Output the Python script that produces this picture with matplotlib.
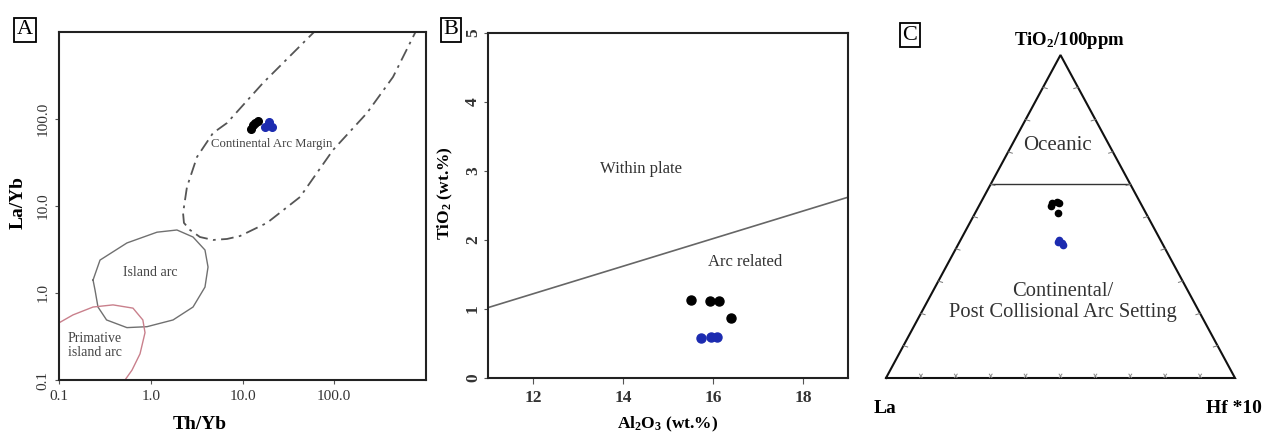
import numpy as np
import matplotlib
matplotlib.use("Agg")
import matplotlib.pyplot as plt

plt.rcParams['font.family'] = ['Liberation Serif', 'DejaVu Serif']
plt.rcParams['mathtext.fontset'] = 'custom'
plt.rcParams['mathtext.rm'] = 'Liberation Serif:bold'
plt.rcParams['mathtext.bf'] = 'Liberation Serif:bold'
plt.rcParams['mathtext.default'] = 'bf'

# ---------------- data ----------------
# Panel A: Th/Yb vs La/Yb
a_black_thyb = [12.5, 13.0, 13.8, 14.8]
a_black_layb = [76, 86, 91, 96]
a_blue_thyb = [17.6, 19.5, 21.0]
a_blue_layb = [80, 92, 80]
a_ticks = [0.1, 1.0, 10.0, 100.0]
a_ticklabels = ["0.1", "1.0", "10.0", "100.0"]

# field boundaries (Th/Yb, La/Yb)
cam_x = [66, 16.7, 6.78, 4.77, 3.19, 2.48, 2.25, 2.30, 2.68, 3.44, 4.77, 6.78, 9.4, 18.5, 42.4, 96.9, 227, 437, 759, 830]
cam_y = [1100, 259, 90, 69, 36.6, 16.5, 8.3, 6.4, 5.3, 4.4, 4.07, 4.18, 4.52, 6.4, 12.7, 44, 117, 304, 975, 1150]
ia_x = [0.235, 0.28, 0.55, 1.17, 1.93, 2.89, 3.90, 4.21, 3.90, 2.89, 1.75, 0.91, 0.55, 0.33, 0.266, 0.247, 0.235]
ia_y = [1.41, 2.39, 3.76, 5.0, 5.3, 4.4, 3.12, 1.99, 1.17, 0.69, 0.49, 0.41, 0.40, 0.49, 0.69, 1.08, 1.41]
pia_x = [0.095, 0.142, 0.235, 0.388, 0.64, 0.82, 0.866, 0.764, 0.625, 0.524, 0.50]
pia_y = [0.44, 0.56, 0.69, 0.73, 0.67, 0.49, 0.35, 0.20, 0.13, 0.10, 0.09]

# Panel B: Al2O3 vs TiO2
b_black_al = [15.5, 15.93, 16.13, 16.41]
b_black_ti = [1.13, 1.12, 1.12, 0.865]
b_blue_al = [15.74, 15.95, 16.08]
b_blue_ti = [0.575, 0.60, 0.60]
b_line_al = [11, 19]
b_line_ti = [1.02, 2.62]
b_xticks = [12, 14, 16, 18]
b_yticks = [0, 1, 2, 3, 4, 5]

# Panel C: ternary La - Hf*10 - TiO2/100 (fractions)
c_black_la = [0.253, 0.237, 0.233, 0.261, 0.252]
c_black_hf = [0.205, 0.218, 0.225, 0.206, 0.237]
c_black_ti = [0.542, 0.545, 0.542, 0.533, 0.511]
c_blue_la = [0.297, 0.291, 0.287, 0.287]
c_blue_hf = [0.282, 0.282, 0.295, 0.301]
c_blue_ti = [0.421, 0.427, 0.418, 0.412]
c_oceanic_ti = 0.6

BLUE = '#1c2bb0'
W, H = 1264, 432
fig = plt.figure(figsize=(W / 100, H / 100), dpi=100)


def ax_at(l, t, r, b):
    return fig.add_axes([l / W, 1 - b / H, (r - l) / W, (b - t) / H])


def boxlabel(x, y, s):
    fig.text(x / W, 1 - y / H, s, fontsize=16, ha='center', va='center',
             bbox=dict(boxstyle='square,pad=0.12', fc='white', ec='black', lw=1.3))


# ---------------- Panel A ----------------
axA = ax_at(59, 32, 426, 380)
axA.set_xscale('log')
axA.set_yscale('log')
axA.set_xlim(0.1, 1000)
axA.set_ylim(0.1, 1000)
axA.plot(cam_x, cam_y, color='#555555', lw=1.3, ls=(0, (7, 3, 1.5, 3)))
axA.plot(ia_x, ia_y, color='#707070', lw=1.0)
axA.plot(pia_x, pia_y, color='#c9808c', lw=1.0)
axA.plot(a_black_thyb, a_black_layb, 'o', color='black', ms=5.5, mec='black')
axA.plot(a_blue_thyb, a_blue_layb, 'o', color=BLUE, ms=5.5, mec=BLUE)
axA.text(21, 52, "Continental Arc Margin", fontsize=9.2, color='#444444', ha='center', va='center')
axA.text(0.98, 1.70, "Island arc", fontsize=10, color='#444444', ha='center', va='center')
axA.text(0.125, 0.25, "Primative\nisland arc", fontsize=10, color='#444444', ha='left', va='center',
         linespacing=1.1)
axA.set_xticks(a_ticks)
axA.set_xticklabels(a_ticklabels, fontsize=11, color='#333333')
axA.set_yticks(a_ticks)
axA.set_yticklabels(a_ticklabels, fontsize=11, color='#333333', rotation=90, va='center')
axA.minorticks_off()
axA.tick_params(axis='both', length=3, width=0.8, color='#555555', pad=4)
axA.set_xlabel("Th/Yb", fontsize=14, fontweight='bold')
axA.set_ylabel("La/Yb", fontsize=14, fontweight='bold')
axA.xaxis.set_label_coords(0.384, -0.129)
axA.yaxis.set_label_coords(-0.11, 0.509)
axA.xaxis.label.set_va('center')
axA.yaxis.label.set_va('center')
for s in axA.spines.values():
    s.set_linewidth(1.5)
    s.set_color('#222222')
boxlabel(25, 30, "A")

# ---------------- Panel B ----------------
axB = ax_at(488, 33, 848, 378)
axB.set_xlim(11, 19)
axB.set_ylim(0, 5)
axB.plot(b_line_al, b_line_ti, color='#666666', lw=1.2)
axB.plot(b_black_al, b_black_ti, 'o', color='black', ms=6.5)
axB.plot(b_blue_al, b_blue_ti, 'o', color=BLUE, ms=6.5)
axB.text(14.41, 3.03, "Within plate", fontsize=12, color='#333333', ha='center', va='center')
axB.text(16.71, 1.68, "Arc related", fontsize=12, color='#333333', ha='center', va='center')
axB.set_xticks(b_xticks)
axB.set_xticklabels([str(v) for v in b_xticks], fontsize=12.5, fontweight='bold', color='#333333')
axB.set_yticks(b_yticks)
axB.set_yticklabels([str(v) for v in b_yticks], fontsize=12.5, fontweight='bold', color='#333333',
                    rotation=90, va='center')
axB.tick_params(axis='x', length=4, width=0.8, color='#555555', pad=5)
axB.tick_params(axis='y', length=3, width=0.8, color='#555555', pad=2)
axB.set_xlabel("Al$_2$O$_3$ (wt.%)", fontsize=12.5, fontweight='bold')
axB.set_ylabel("TiO$_2$ (wt.%)", fontsize=12.5, fontweight='bold')
axB.xaxis.set_label_coords(0.5, -0.135)
axB.yaxis.set_label_coords(-0.119, 0.536)
axB.xaxis.label.set_va('center')
axB.yaxis.label.set_va('center')
for s in axB.spines.values():
    s.set_linewidth(1.5)
    s.set_color('#222222')
boxlabel(451, 30, "B")

# ---------------- Panel C ----------------
axC = ax_at(886, 55, 1235, 378)
axC.set_xlim(0, 1)
axC.set_ylim(0, 1)
axC.axis('off')


def tern(la, hf, ti):
    la, hf, ti = np.asarray(la), np.asarray(hf), np.asarray(ti)
    tot = la + hf + ti
    return (hf + ti / 2) / tot, ti / tot


tri_x, tri_y = tern([1, 0, 0, 1], [0, 1, 0, 0], [0, 0, 1, 0])
axC.plot(tri_x, tri_y, color='#111111', lw=1.5, clip_on=False, solid_joinstyle='miter')
ox, oy = tern([1 - c_oceanic_ti, 0], [0, 1 - c_oceanic_ti], [c_oceanic_ti, c_oceanic_ti])
axC.plot(ox, oy, color='#333333', lw=1.0)

# small tick marks along the edges
fr = np.arange(1, 10) / 10
tl = 0.012
for f in fr:
    bx, by = tern(1 - f, f, 0)
    axC.plot([bx - 0.004, bx + 0.004], [by, by + 0.012], color='#888888', lw=0.7)
    axC.plot([bx + 0.004, bx - 0.004], [by, by + 0.012], color='#888888', lw=0.7)
    lx, ly = tern(1 - f, 0, f)
    axC.plot([lx, lx + tl], [ly, ly - 0.004], color='#777777', lw=0.7)
    rx, ry = tern(0, 1 - f, f)
    axC.plot([rx, rx - tl], [ry, ry - 0.004], color='#777777', lw=0.7)

bkx, bky = tern(c_black_la, c_black_hf, c_black_ti)
blx, bly = tern(c_blue_la, c_blue_hf, c_blue_ti)
axC.plot(bkx, bky, 'o', color='black', ms=4.5)
axC.plot(blx, bly, 'o', color=BLUE, ms=4.5)

axC.text(0.49, 0.721, "Oceanic", fontsize=15, color='#333333', ha='center', va='center')
axC.text(0.507, 0.235, "Continental/\nPost Collisional Arc Setting", fontsize=14.8, color='#333333',
         ha='center', va='center', linespacing=1.2)
axC.text(0.527, 1.046, "TiO$_2$/100ppm", fontsize=13.5, fontweight='bold', ha='center', va='center',
         clip_on=False)
axC.text(-0.035, -0.093, "La", fontsize=14, fontweight='bold', ha='left', va='center', clip_on=False)
axC.text(1.077, -0.093, "Hf *10", fontsize=14, fontweight='bold', ha='right', va='center', clip_on=False)
boxlabel(910, 35, "C")

fig.savefig("out.png", dpi=100)
